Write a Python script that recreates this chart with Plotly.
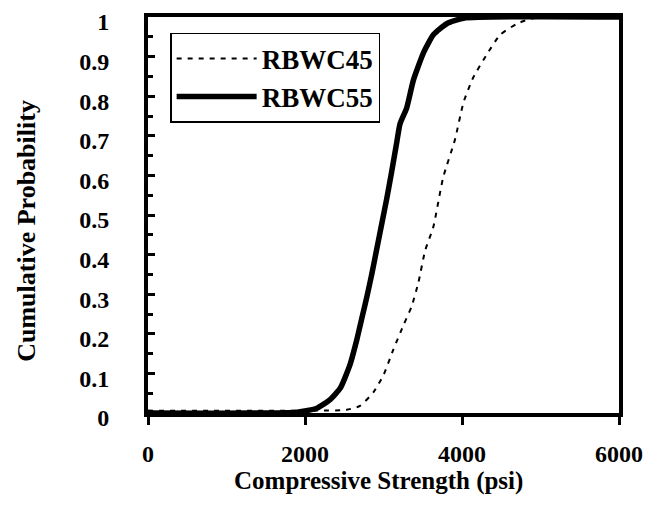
import plotly.graph_objects as go

# Cumulative probability curves of compressive strength (psi)
rbwc45_x = [0, 2150, 2530, 2700, 2870, 3000, 3125, 3250, 3360, 3445, 3530, 3635,
            3760, 3910, 4020, 4145, 4315, 4485, 4700, 4910, 6000]
rbwc45_y = [0.006, 0.006, 0.008, 0.018, 0.052, 0.096, 0.16, 0.22, 0.27, 0.33, 0.41, 0.47,
            0.595, 0.69, 0.785, 0.848, 0.905, 0.955, 0.983, 0.997, 1.0]

rbwc55_x = [0, 1900, 2150, 2320, 2450, 2570, 2660, 2725, 2790, 2850, 2910, 2975,
            3040, 3100, 3170, 3210, 3295, 3380, 3510, 3635, 3805, 4020, 6000]
rbwc55_y = [0.0, 0.002, 0.012, 0.034, 0.063, 0.12, 0.185, 0.24, 0.295, 0.35, 0.41, 0.475,
            0.54, 0.605, 0.685, 0.73, 0.77, 0.84, 0.91, 0.955, 0.983, 0.997, 1.0]

x_ticks = [0, 2000, 4000, 6000]
y_ticks = [0, 0.1, 0.2, 0.3, 0.4, 0.5, 0.6, 0.7, 0.8, 0.9, 1.0]
y_tick_text = ["0", "0.1", "0.2", "0.3", "0.4", "0.5", "0.6", "0.7", "0.8", "0.9", "1"]

FONT = "Liberation Serif"

fig = go.Figure()
fig.add_trace(go.Scatter(
    x=rbwc45_x, y=rbwc45_y, mode="lines", name="RBWC45",
    line=dict(color="black", width=2, dash="5px,6px", shape="spline", smoothing=0.5),
))
fig.add_trace(go.Scatter(
    x=rbwc55_x, y=rbwc55_y, mode="lines", name="RBWC55",
    line=dict(color="black", width=5.5, shape="spline", smoothing=0.5),
))

axis_common = dict(
    showgrid=False, zeroline=False, showline=True, linecolor="black",
    linewidth=4, mirror=True, automargin=False,
    tickfont=dict(family=FONT, size=24, color="black", weight="bold"),
)

fig.update_layout(
    width=651, height=509,
    margin=dict(l=148, r=32, t=17, b=96),
    paper_bgcolor="white", plot_bgcolor="white",
    showlegend=True,
    legend=dict(
        x=0.047, y=0.96, xanchor="left", yanchor="top",
        bgcolor="white", bordercolor="black", borderwidth=1.5,
        font=dict(family=FONT, size=27, color="black", weight="bold"),
        itemwidth=80, tracegroupgap=0,
    ),
    xaxis=dict(
        range=[0, 6000], tickmode="array", tickvals=x_ticks,
        ticktext=[str(v) for v in x_ticks],
        ticks="outside", ticklen=8, tickwidth=3, tickcolor="black",
        ticklabelstandoff=8,
        **axis_common,
    ),
    yaxis=dict(
        range=[0, 1], tickmode="array", tickvals=y_ticks, ticktext=y_tick_text,
        ticks="inside", ticklen=7, tickwidth=3, tickcolor="black",
        ticklabelstandoff=30, ticklabelshift=5,
        minor=dict(dtick=0.05, ticks="inside", ticklen=5, tickwidth=3, tickcolor="black"),
        **axis_common,
    ),
    annotations=[
        dict(text="Compressive Strength (psi)", xref="paper", yref="paper",
             x=0.49, y=-0.172, xanchor="center", yanchor="middle", showarrow=False,
             font=dict(family=FONT, size=25, color="black", weight="bold")),
        dict(text="Cumulative Probability", xref="paper", yref="paper",
             x=-0.257, y=0.46, xanchor="center", yanchor="middle", showarrow=False,
             textangle=-90,
             font=dict(family=FONT, size=26, color="black", weight="bold")),
    ],
)

fig.write_html("out.html")
